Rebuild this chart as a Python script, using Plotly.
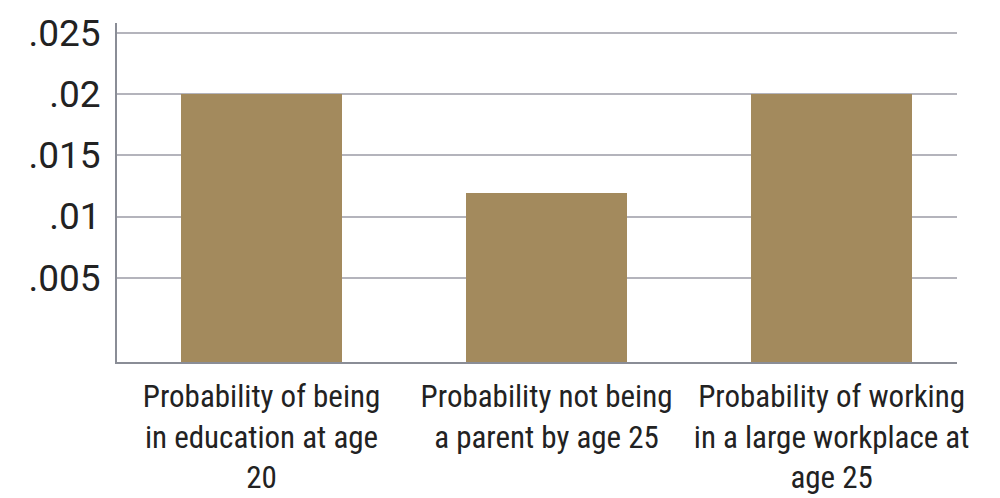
import plotly.graph_objects as go

categories = [
    "Probability of being<br>in education at age<br>20",
    "Probability not being<br>a parent by age 25",
    "Probability of working<br>in a large workplace at<br>age 25",
]
values = [0.0200, 0.0119, 0.0200]
tick_vals = [0.005, 0.01, 0.015, 0.02, 0.025]
tick_text = [".005", ".01", ".015", ".02", ".025"]

y_min = -0.00188
y_max = 0.0258
xs = list(range(len(categories)))

fig = go.Figure()
fig.add_trace(go.Bar(
    x=xs,
    y=[v - y_min for v in values],
    base=y_min,
    width=0.565,
    marker=dict(color="#A38A5D", line=dict(width=0)),
    hoverinfo="skip",
))

fig.update_layout(
    width=1000, height=498,
    margin=dict(l=117, r=43, t=23, b=136),
    plot_bgcolor="white", paper_bgcolor="white",
    showlegend=False,
    bargap=0,
    xaxis=dict(
        tickmode="array", tickvals=xs, ticktext=categories,
        range=[-0.507, 2.44],
        automargin=False,
        showgrid=False, zeroline=False,
        showline=True, linecolor="#8a8d96", linewidth=2,
        ticks="", ticklabelstandoff=6,
        tickfont=dict(family="Roboto Condensed, Liberation Sans Narrow, Roboto, sans-serif", size=31, color="#222222"),
    ),
    yaxis=dict(
        range=[y_min, y_max],
        automargin=False,
        tickmode="array", tickvals=tick_vals, ticktext=tick_text,
        showgrid=True, gridcolor="#b4b4bc", gridwidth=1.5,
        zeroline=False,
        showline=True, linecolor="#8a8d96", linewidth=2,
        ticks="", ticklabelstandoff=7,
        tickfont=dict(family="Roboto, sans-serif", size=37, color="#222222"),
    ),
)

fig.write_html("out.html")
